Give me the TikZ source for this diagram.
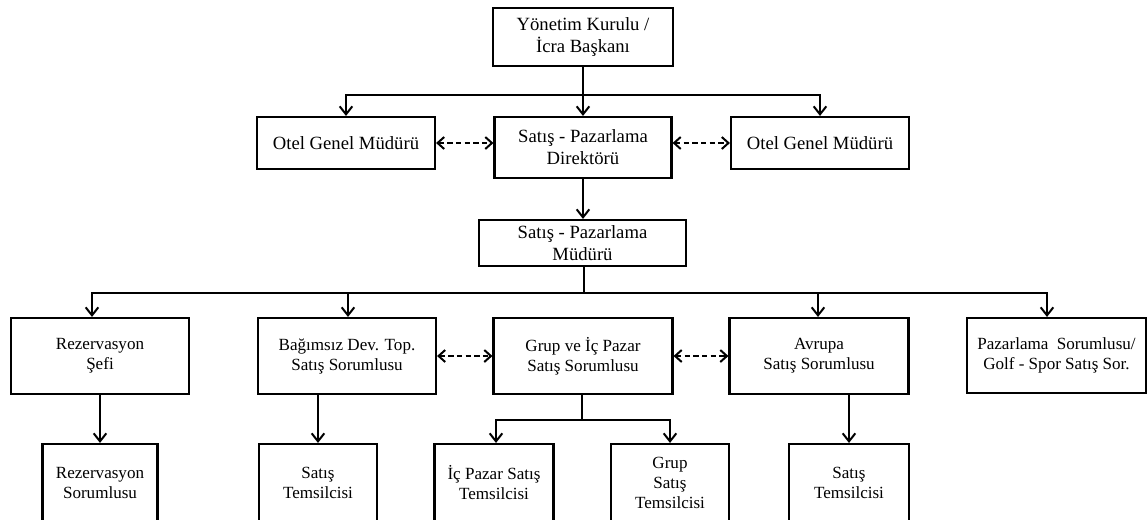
\documentclass[tikz,border=0pt]{standalone}
\usepackage{fontspec}
\setmainfont{Liberation Serif}
\usetikzlibrary{arrows.meta,calc}

\tikzset{
  box/.style={draw, line width=1.6pt, align=center, inner sep=2pt},
  upper/.style={box, font=\fontsize{14}{16.5}\selectfont},
  lower/.style={box, font=\fontsize{12.8}{15}\selectfont},
  line/.style={line width=1.6pt},
  arr/.style={line, -{Straight Barb[length=6pt,width=9.5pt,line width=1.5pt]}},
  darr/.style={line, dash pattern=on 4pt off 2.5pt,
    {Straight Barb[length=5pt,width=9pt,line width=1.5pt]}-{Straight Barb[length=5pt,width=9pt,line width=1.5pt]}},
}

\begin{document}
\begin{tikzpicture}[x=0.75pt, y=-0.75pt]
\useasboundingbox (0,0) rectangle (1147,519);
\clip (0,0) rectangle (1147,519);

% top level
\node[upper, minimum width=135pt, minimum height=43.5pt] (top) at (583,37) {Yönetim Kurulu /\\İcra Başkanı};

% second level
\node[upper, minimum width=133.5pt, minimum height=39pt] (og1) at (346,143) {Otel Genel Müdürü};
\node[upper, minimum width=132.75pt, minimum height=45.75pt] (spd) at (583,147.5) {Satış - Pazarlama\\Direktörü};
\node[upper, minimum width=133.5pt, minimum height=39pt] (og2) at (820,143) {Otel Genel Müdürü};

% sales & marketing manager
\node[upper, minimum width=155.25pt, minimum height=34.5pt] (spm) at (582.5,243) {Satış - Pazarlama\\Müdürü};

% third level
\node[lower, minimum width=133.5pt, minimum height=57pt] (rs) at (100,356) {Rezervasyon\\Şefi};
\node[lower, minimum width=133.5pt, minimum height=57pt] (bd) at (347,356) {Bağımsız Dev. Top.\\Satış Sorumlusu};
\node[lower, minimum width=134.25pt, minimum height=57pt] (gi) at (583,356) {Grup ve İç Pazar\\Satış Sorumlusu};
\node[lower, minimum width=134.25pt, minimum height=57pt] (av) at (819,356) {Avrupa\\Satış Sorumlusu};
\node[lower, minimum width=134.25pt, minimum height=56.25pt] (ps) at (1056.5,355.5) {Pazarlama\ \ Sorumlusu/\\Golf - Spor Satış Sor.};

% fourth level
\node[lower, minimum width=86.25pt, minimum height=58.5pt] (rsor) at (100,483) {Rezervasyon\\Sorumlusu};
\node[lower, minimum width=88.5pt, minimum height=58.5pt] (st1) at (318,483) {Satış\\Temsilcisi};
\node[lower, minimum width=89.25pt, minimum height=58.5pt] (ip) at (494,483) {İç Pazar Satış\\Temsilcisi};
\node[lower, minimum width=88.5pt, minimum height=58.5pt] (gs) at (670,483) {Grup\\Satış\\Temsilcisi};
\node[lower, minimum width=90pt, minimum height=58.5pt] (st2) at (849,483) {Satış\\Temsilcisi};

% board to second level
\coordinate (bus1) at ($(top.south)+(0,28)$);
\draw[line] (top.south) -- (bus1);
\draw[arr] (bus1) -- (spd.north);
\draw[arr] (bus1) -| (og1.north);
\draw[arr] (bus1) -| (og2.north);

% coordination between directors
\draw[darr] (og1.east) -- (og1.east -| spd.west);
\draw[darr] (og2.west -| spd.east) -- (og2.west);

% director to manager
\draw[arr] (spd.south) -- (spd.south |- spm.north);

% manager to third level
\coordinate (bus2) at ($(spm.south)+(1.5,26)$);
\draw[line] ($(spm.south)+(1.5,0)$) -- (bus2);
\draw[arr] (bus2) -| ($(rs.north)+(-8,0)$);
\draw[arr] (bus2) -| ($(bd.north)+(1,0)$);
\draw[arr] (bus2) -| ($(av.north)+(-1,0)$);
\draw[arr] (bus2) -| ($(ps.north)+(-9.5,0)$);

% coordination within sales
\draw[darr] (bd.east) -- (gi.west);
\draw[darr] (gi.east) -- (av.west);

% third to fourth level
\draw[arr] (rsor.north |- rs.south) -- (rsor.north);
\draw[arr] (st1.north |- bd.south) -- (st1.north);
\draw[arr] (st2.north |- av.south) -- (st2.north);
\coordinate (bus3) at ($(gi.south)+(-1,25)$);
\draw[line] ($(gi.south)+(-1,0)$) -- (bus3);
\draw[arr] (bus3) -| ($(ip.north)+(2,0)$);
\draw[arr] (bus3) -| (gs.north);
\end{tikzpicture}
\end{document}
